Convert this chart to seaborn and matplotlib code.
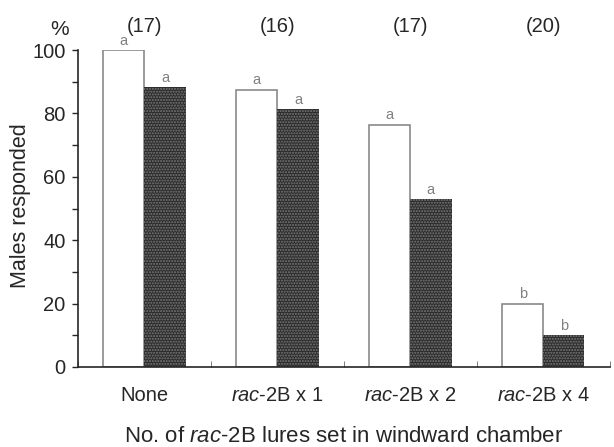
import matplotlib

matplotlib.use("Agg")
import matplotlib.pyplot as plt
import pandas as pd
import seaborn as sns
from matplotlib.ticker import MultipleLocator

# Data
groups = ["None", "$\\it{rac}$-2B x 1", "$\\it{rac}$-2B x 2", "$\\it{rac}$-2B x 4"]
n_tested = ["(17)", "(16)", "(17)", "(20)"]
open_vals = [100.0, 87.5, 76.5, 20.0]
dark_vals = [88.2, 81.3, 52.9, 10.0]
open_letters = ["a", "a", "a", "b"]
dark_letters = ["a", "a", "a", "b"]

df = pd.DataFrame({
    "group": groups * 2,
    "series": ["open"] * 4 + ["dark"] * 4,
    "value": open_vals + dark_vals,
})

sns.set_style("ticks")
plt.rcParams["font.family"] = ["Liberation Sans", "DejaVu Sans"]
plt.rcParams["mathtext.fontset"] = "custom"
plt.rcParams["mathtext.rm"] = "Liberation Sans"
plt.rcParams["mathtext.it"] = "Liberation Sans:italic"

txt = "#262626"
fig = plt.figure(figsize=(6.14, 4.47), dpi=100)
ax = fig.add_axes([0.127, 0.179, 0.866, 0.709])

sns.barplot(
    data=df, x="group", y="value", hue="series",
    palette=["white", "#2b2b2b"], width=0.62, gap=0,
    legend=False, ax=ax, errorbar=None,
)

for bar in ax.containers[0]:
    bar.set_edgecolor("#8a8a8a")
    bar.set_linewidth(1.2)
for bar in ax.containers[1]:
    bar.set_facecolor("#2b2b2b")
    bar.set_edgecolor("#7a7a7a")
    bar.set_hatch("......")
    bar.set_linewidth(0)

# significance letters
for cont, letters in zip(ax.containers, [open_letters, dark_letters]):
    for bar, lt in zip(cont, letters):
        ax.text(bar.get_x() + bar.get_width() / 2, bar.get_height() + 0.8, lt,
                ha="center", va="bottom", fontsize=10.5, color="#808080", clip_on=False)

# sample sizes above groups
for i, n in enumerate(n_tested):
    ax.text(i, 107.5, n, ha="center", va="center", fontsize=14.5, color=txt, clip_on=False)
ax.text(-0.64, 106.5, "%", ha="center", va="center", fontsize=15, color=txt, clip_on=False)

ax.set_xlim(-0.5, 3.5)
ax.set_ylim(0, 100)
ax.yaxis.set_major_locator(MultipleLocator(20))
ax.yaxis.set_minor_locator(MultipleLocator(10))
ax.xaxis.set_minor_locator(MultipleLocator(1, offset=0.5))
ax.tick_params(axis="y", which="both", direction="out", length=4, width=1,
               labelsize=14.5, labelcolor=txt, pad=5)
ax.tick_params(axis="x", which="major", length=0, labelsize=14.5, labelcolor=txt, pad=14)
ax.tick_params(axis="x", which="minor", direction="in", length=4, color="#666666")

sns.despine(ax=ax)
ax.spines["left"].set_linewidth(1.2)
ax.spines["bottom"].set_linewidth(1.2)

ax.set_ylabel("Males responded", fontsize=15.5, color=txt)
ax.yaxis.set_label_coords(-0.088, 0.51)
ax.set_xlabel("No. of $\\it{rac}$-2B lures set in windward chamber",
              fontsize=16, color=txt, labelpad=15)

fig.savefig("out.png", dpi=100)
